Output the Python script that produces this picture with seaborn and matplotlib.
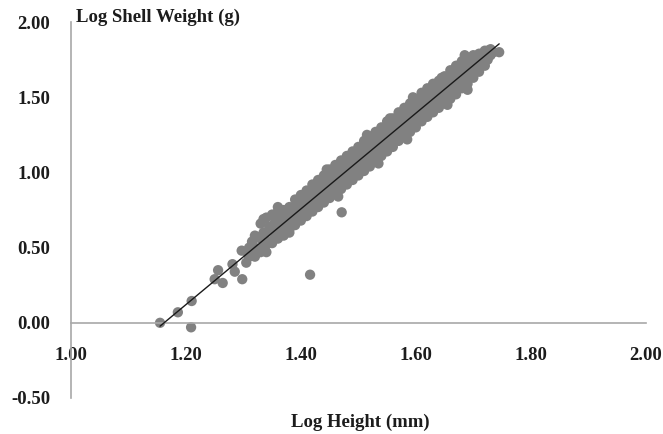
import matplotlib
matplotlib.use("Agg")
import matplotlib.pyplot as plt
import matplotlib.ticker as mticker
import seaborn as sns
import numpy as np
import pandas as pd

# ---- data (log height mm, log shell weight g) ----
sparse_x = [1.155, 1.186, 1.209, 1.210, 1.250, 1.256, 1.264, 1.281, 1.285, 1.298, 1.305, 1.297, 1.308,
            1.416, 1.471]
sparse_y = [0.00, 0.07, -0.03, 0.145, 0.29, 0.35, 0.265, 0.39, 0.34, 0.29, 0.40, 0.48, 0.46,
            0.32, 0.735]

band_x = [
    1.31, 1.31,
    1.32, 1.32, 1.32,
    1.33, 1.33, 1.33,
    1.34, 1.34, 1.34, 1.34,
    1.35, 1.35, 1.35,
    1.36, 1.36, 1.36,
    1.37, 1.37, 1.37,
    1.38, 1.38, 1.38,
    1.39, 1.39, 1.39,
    1.40, 1.40, 1.40,
    1.41, 1.41, 1.41,
    1.42, 1.42, 1.42,
    1.43, 1.43, 1.43,
    1.44, 1.44, 1.44,
    1.45, 1.45, 1.45,
    1.46, 1.46, 1.46,
    1.47, 1.47, 1.47,
    1.48, 1.48, 1.48,
    1.49, 1.49, 1.49,
    1.50, 1.50, 1.50,
    1.51, 1.51, 1.51,
    1.52, 1.52, 1.52,
    1.53, 1.53, 1.53,
    1.54, 1.54, 1.54,
    1.55, 1.55, 1.55,
    1.56, 1.56, 1.56,
    1.57, 1.57, 1.57,
    1.58, 1.58, 1.58,
    1.59, 1.59, 1.59,
    1.60, 1.60, 1.60,
    1.61, 1.61, 1.61,
    1.62, 1.62, 1.62,
    1.63, 1.63, 1.63,
    1.64, 1.64, 1.64,
    1.65, 1.65, 1.65,
    1.66, 1.66, 1.66,
    1.67, 1.67, 1.67,
    1.68, 1.68, 1.68,
    1.69, 1.69, 1.69,
    1.70, 1.70, 1.70,
    1.71, 1.71, 1.71,
    1.72, 1.72, 1.72,
    1.73, 1.73,
    1.745,
    1.335, 1.36, 1.445, 1.515, 1.555, 1.595, 1.645, 1.685,
    1.38, 1.465, 1.535, 1.585, 1.655, 1.69,
]
band_y = [
    0.50, 0.44,
    0.58, 0.50, 0.44,
    0.66, 0.56, 0.47,
    0.70, 0.60, 0.52, 0.47,
    0.72, 0.62, 0.53,
    0.74, 0.65, 0.56,
    0.75, 0.68, 0.58,
    0.77, 0.71, 0.62,
    0.82, 0.74, 0.65,
    0.85, 0.76, 0.68,
    0.88, 0.80, 0.71,
    0.92, 0.83, 0.74,
    0.95, 0.86, 0.77,
    0.98, 0.89, 0.80,
    1.02, 0.93, 0.83,
    1.05, 0.95, 0.86,
    1.08, 0.99, 0.89,
    1.11, 1.02, 0.92,
    1.14, 1.05, 0.95,
    1.17, 1.08, 0.98,
    1.21, 1.11, 1.01,
    1.24, 1.15, 1.04,
    1.27, 1.18, 1.08,
    1.30, 1.21, 1.11,
    1.34, 1.24, 1.14,
    1.36, 1.27, 1.17,
    1.40, 1.30, 1.21,
    1.43, 1.33, 1.24,
    1.46, 1.37, 1.27,
    1.49, 1.40, 1.30,
    1.53, 1.43, 1.34,
    1.56, 1.46, 1.37,
    1.59, 1.49, 1.40,
    1.61, 1.52, 1.43,
    1.64, 1.56, 1.46,
    1.68, 1.59, 1.49,
    1.71, 1.62, 1.52,
    1.74, 1.65, 1.56,
    1.76, 1.68, 1.59,
    1.78, 1.72, 1.63,
    1.79, 1.75, 1.67,
    1.81, 1.77, 1.71,
    1.82, 1.78,
    1.80,
    0.69, 0.77, 1.02, 1.25, 1.36, 1.50, 1.63, 1.78,
    0.60, 0.84, 1.06, 1.22, 1.45, 1.55,
]

# in-between column of the dense band (upper and lower half-rows)
fill_x = [
    1.315, 1.315, 1.325, 1.325, 1.335, 1.335, 1.345, 1.345, 1.355, 1.355,
    1.365, 1.365, 1.375, 1.375, 1.385, 1.385, 1.395, 1.395, 1.405, 1.405,
    1.415, 1.415, 1.425, 1.425, 1.435, 1.435, 1.445, 1.445, 1.455, 1.455,
    1.465, 1.465, 1.475, 1.475, 1.485, 1.485, 1.495, 1.495, 1.505, 1.505,
    1.515, 1.515, 1.525, 1.525, 1.535, 1.535, 1.545, 1.545, 1.555, 1.555,
    1.565, 1.565, 1.575, 1.575, 1.585, 1.585, 1.595, 1.595, 1.605, 1.605,
    1.615, 1.615, 1.625, 1.625, 1.635, 1.635, 1.645, 1.645, 1.655, 1.655,
    1.665, 1.665, 1.675, 1.675, 1.685, 1.685, 1.695, 1.695, 1.705, 1.705,
    1.715, 1.715, 1.725, 1.725, 1.735,
]
fill_y = [
    0.54, 0.45, 0.57, 0.48, 0.60, 0.51, 0.64, 0.54, 0.67, 0.57,
    0.70, 0.60, 0.73, 0.63, 0.76, 0.67, 0.79, 0.70, 0.83, 0.73,
    0.86, 0.76, 0.89, 0.79, 0.92, 0.83, 0.95, 0.86, 0.99, 0.89,
    1.02, 0.92, 1.05, 0.95, 1.08, 0.99, 1.11, 1.02, 1.14, 1.05,
    1.18, 1.08, 1.21, 1.11, 1.24, 1.15, 1.27, 1.18, 1.30, 1.21,
    1.33, 1.24, 1.37, 1.27, 1.40, 1.30, 1.43, 1.34, 1.46, 1.37,
    1.49, 1.40, 1.52, 1.43, 1.56, 1.46, 1.59, 1.50, 1.62, 1.53,
    1.65, 1.56, 1.68, 1.59, 1.71, 1.62, 1.74, 1.66, 1.77, 1.69,
    1.79, 1.72, 1.81, 1.75, 1.80,
]

x_ticks = [1.00, 1.20, 1.40, 1.60, 1.80, 2.00]
y_ticks = [-0.50, 0.00, 0.50, 1.00, 1.50, 2.00]
x_title = "Log Height (mm)"
y_title = "Log Shell Weight (g)"

df = pd.DataFrame({"log_height": sparse_x + band_x + fill_x,
                   "log_weight": sparse_y + band_y + fill_y})

# ---- style ----
sns.set_style("white")
plt.rcParams["font.family"] = ["Liberation Serif", "DejaVu Serif"]
plt.rcParams["font.weight"] = "bold"
plt.rcParams["axes.unicode_minus"] = False

text_col = "#1c1c1c"
spine_col = "#a8a8a8"
fs = 13.5

fig = plt.figure(figsize=(6.63, 4.34), dpi=100)
ax = fig.add_axes([0.107, 0.083, 0.867, 0.866])

sns.regplot(data=df, x="log_height", y="log_weight", ax=ax, ci=None, truncate=True,
            scatter_kws=dict(s=55, color="#818181", edgecolor="none", alpha=1, zorder=2),
            line_kws=dict(color="#1a1a1a", lw=1.0, zorder=3))

ax.set_xlim(1.0, 2.0)
ax.set_ylim(-0.5, 2.0)
ax.set_xticks(x_ticks)
ax.set_yticks(y_ticks)
ax.xaxis.set_major_formatter(mticker.StrMethodFormatter("{x:.2f}"))
ax.yaxis.set_major_formatter(mticker.StrMethodFormatter("{x:.2f}"))

for s in ["top", "right"]:
    ax.spines[s].set_visible(False)
ax.spines["bottom"].set_position(("data", 0))
ax.spines["left"].set_position(("data", 1.0))
for s in ["bottom", "left"]:
    ax.spines[s].set_color(spine_col)
    ax.spines[s].set_linewidth(1.2)

ax.tick_params(axis="y", direction="out", length=5, width=1, color=spine_col, pad=10,
               labelsize=fs, labelcolor=text_col)
ax.tick_params(axis="x", direction="out", length=3, width=1, color=spine_col, pad=14.5,
               labelsize=fs, labelcolor=text_col)
for lab in ax.get_xticklabels() + ax.get_yticklabels():
    lab.set_fontweight("bold")

ax.set_xlabel(x_title, fontsize=fs, fontweight="bold", color=text_col, va="center")
ax.xaxis.set_label_coords(0.504, -0.064)
ax.set_ylabel(y_title, fontsize=fs, fontweight="bold", color=text_col,
              rotation=0, ha="left", va="center")
ax.yaxis.set_label_coords(0.009, 1.012)

ax.grid(False)
fig.savefig("out.png", dpi=100)
